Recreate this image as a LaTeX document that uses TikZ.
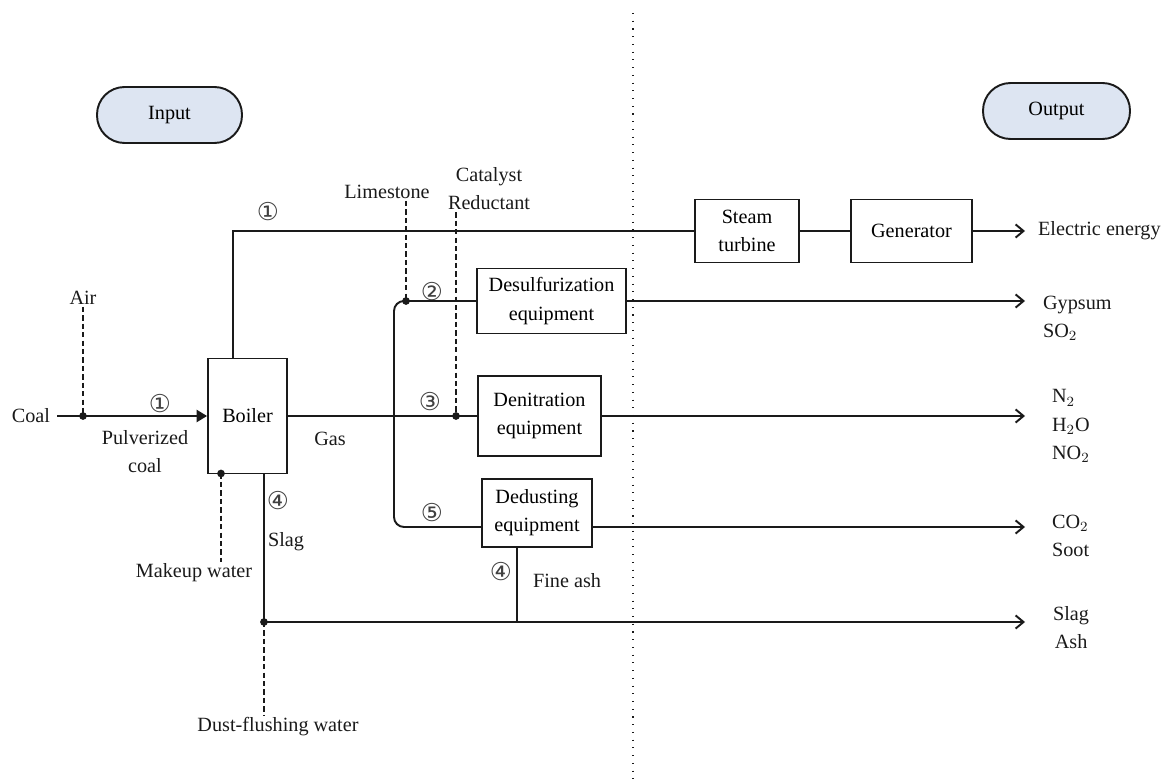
\documentclass[tikz,border=0pt]{standalone}
\usepackage{fontspec}
\setmainfont{Liberation Serif}
\newfontfamily\circfont{DejaVu Sans}
\usetikzlibrary{arrows.meta}
\definecolor{termfill}{HTML}{DDE5F2}
\definecolor{ink}{HTML}{1A1A1A}
\tikzset{
  unit/.style={draw=ink,line width=1.1pt,align=center,inner sep=1pt},
  term/.style={draw=ink,line width=1.1pt,rounded corners=0.55cm,fill=termfill,minimum width=2.9cm,minimum height=1.12cm},
  flow/.style={draw=ink,line width=1.1pt},
  feed/.style={draw=ink,line width=0.8pt,dash pattern=on 3pt off 1.8pt},
  sep/.style={draw=ink,line width=1.1pt,dash pattern=on 0.6pt off 3.8pt},
  lbl/.style={inner sep=1pt,align=center,text=ink},
  num/.style={font=\circfont\fontsize{14}{14}\selectfont,text=black!75,inner sep=0pt},
}
\begin{document}
\begin{tikzpicture}[x=0.02cm,y=-0.02cm,>={Straight Barb[length=4.5pt,width=7.5pt]},font=\fontsize{11.5}{16}\selectfont]
\useasboundingbox (0,0) rectangle (1169,780);
% input / output
\node[term] (input) at (169.5,115) {Input};
\node[term,minimum width=2.94cm] (output) at (1056.5,111) {Output};
\draw[sep] (633,13) -- (633,780);
% units
\node[unit,minimum width=1.58cm,minimum height=2.3cm] (boiler) at (247.5,416) {Boiler};
\node[unit,minimum width=2.98cm,minimum height=1.3cm] (desulf) at (551.5,301) {Desulfurization\\equipment};
\node[unit,minimum width=2.46cm,minimum height=1.6cm] (denit) at (539.5,416) {Denitration\\equipment};
\node[unit,minimum width=2.2cm,minimum height=1.36cm] (dedust) at (537,513) {Dedusting\\equipment};
\node[unit,minimum width=2.08cm,minimum height=1.26cm] (turbine) at (747,231) {Steam\\turbine};
\node[unit,minimum width=2.42cm,minimum height=1.26cm] (generator) at (911.5,231) {Generator};
% inputs
\node[lbl] (coal) at (31,416) {Coal};
\node[lbl] (air) at (83,298) {Air};
\node[lbl] (pulv) at (145,452) {Pulverized\\coal};
\node[lbl] (gas) at (330,439) {Gas};
\node[lbl] (lime) at (387,192) {Limestone};
\node[lbl] (cat) at (489,189) {Catalyst\\Reductant};
\node[lbl] (makeup) at (194,573) {Makeup water};
\node[lbl] (dust) at (278,727) {Dust-flushing water};
\node[lbl,anchor=west] (slag) at (266,542) {Slag};
\node[lbl] (fine) at (567,581) {Fine ash};
% outputs
\node[lbl,anchor=west] (elec) at (1036,231) {Electric energy};
\node[lbl,anchor=west,align=left] (gyp) at (1041,318) {Gypsum\\SO$_2$};
\node[lbl,anchor=west,align=left] (nox) at (1050,426) {N$_2$\\H$_2$O\\NO$_2$};
\node[lbl,anchor=west,align=left] (soot) at (1050,536) {CO$_2$\\Soot};
\node[lbl,anchor=west] (ash) at (1051,628) {Slag\\Ash};
% stream numbers
\node[num] (n1a) at (160,404) {①};
\node[num] (n1b) at (268,212) {①};
\node[num] (n2) at (432,292) {②};
\node[num] (n3) at (430,402) {③};
\node[num] (n5) at (432,513) {⑤};
\node[num] (n4a) at (278,501) {④};
\node[num] (n4b) at (501,572) {④};
% junctions
\coordinate (ex) at (1025,0);
\coordinate (airdot) at (83,416);
\coordinate (limedot) at (406,301);
\coordinate (catdot) at (456,416);
\coordinate (mkdot) at (221,473.5);
\coordinate (slagdot) at (264,622);
\coordinate (ashjoin) at (517,622);
\coordinate (steamup) at (233,231);
% main flows
\draw[flow,-{Triangle[length=6pt,width=7pt]}] ([xshift=3pt]coal.east) -- (boiler.west);
\draw[flow] (steamup |- boiler.north) -- (steamup) -- (turbine.west);
\draw[flow] (turbine.east) -- (generator.west);
\draw[flow,->] (generator.east) -- (generator.east -| ex);
\draw[flow] (boiler.east) -- (denit.west);
\draw[flow,rounded corners=0.2cm] (desulf.west) -| (394,416) |- ([yshift=-0.28cm]dedust.west);
\draw[flow,->] (desulf.east) -- (desulf.east -| ex);
\draw[flow,->] (denit.east) -- (denit.east -| ex);
\draw[flow,->] ([yshift=-0.28cm]dedust.east) -- ([yshift=-0.28cm]dedust.east -| ex);
\draw[flow] (slagdot |- boiler.south) -- (slagdot);
\draw[flow,->] (slagdot) -- (slagdot -| ex);
\draw[flow] (ashjoin |- dedust.south) -- (ashjoin);
% additions
\draw[feed] (airdot |- air.south) -- (airdot);
\draw[feed] (limedot |- lime.south) -- (limedot);
\draw[feed] (catdot |- cat.south) -- (catdot);
\draw[feed] (mkdot) -- (mkdot |- makeup.north);
\draw[feed] (slagdot) -- (slagdot |- dust.north);
\foreach \p in {airdot,limedot,catdot,mkdot,slagdot} \fill[ink] (\p) circle (2.2pt);
\end{tikzpicture}
\end{document}
